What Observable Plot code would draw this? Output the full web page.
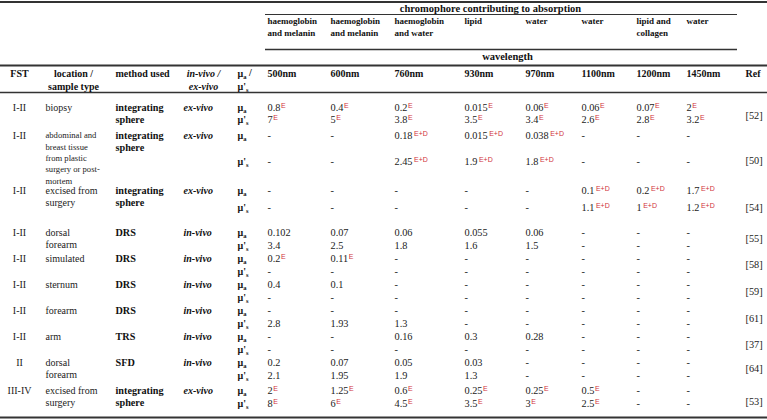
<!DOCTYPE html>
<html><head><meta charset="utf-8">
<script src="https://cdn.jsdelivr.net/npm/d3@7"></script>
<script src="https://cdn.jsdelivr.net/npm/@observablehq/plot@0.6"></script>
<style>body{margin:0;background:#fff}</style>
</head><body><div id="chart"></div>
<script>
// ---------- data ----------
const chromophores = ["haemoglobin\nand melanin","haemoglobin\nand melanin","haemoglobin\nand water","lipid","water","water","lipid and\ncollagen","water"];
const wavelengths = ["500nm","600nm","760nm","930nm","970nm","1100nm","1200nm","1450nm"];
const fst = ["I-II","I-II","I-II","I-II","I-II","I-II","I-II","I-II","II","III-IV"];
const locations = ["biopsy","abdominal and\nbreast tissue\nfrom plastic\nsurgery or post-\nmortem","excised from\nsurgery","dorsal\nforearm","simulated","sternum","forearm","arm","dorsal\nforearm","excised from\nsurgery"];
const methods = ["integrating\nsphere","integrating\nsphere","integrating\nsphere","DRS","DRS","DRS","DRS","TRS","SFD","integrating\nsphere"];
const vivo = ["ex-vivo","ex-vivo","ex-vivo","in-vivo","in-vivo","in-vivo","in-vivo","in-vivo","in-vivo","ex-vivo"];
const refs = ["[52]","[50]","[54]","[55]","[58]","[59]","[61]","[37]","[64]","[53]"];
const muA = [
  ["0.8E","0.4E","0.2E","0.015E","0.06E","0.06E","0.07E","2E"],
  ["-","-","0.18E+D","0.015E+D","0.038E+D","-","-","-"],
  ["-","-","-","-","-","0.1E+D","0.2E+D","1.7E+D"],
  ["0.102","0.07","0.06","0.055","0.06","-","-","-"],
  ["0.2E","0.11E","-","-","-","-","-","-"],
  ["0.4","0.1","-","-","-","-","-","-"],
  ["-","-","-","-","-","-","-","-"],
  ["-","-","0.16","0.3","0.28","-","-","-"],
  ["0.2","0.07","0.05","0.03","-","-","-","-"],
  ["2E","1.25E","0.6E","0.25E","0.25E","0.5E","-","-"]
];
const muS = [
  ["7E","5E","3.8E","3.5E","3.4E","2.6E","2.8E","3.2E"],
  ["-","-","2.45E+D","1.9E+D","1.8E+D","-","-","-"],
  ["-","-","-","-","-","1.1E+D","1E+D","1.2E+D"],
  ["3.4","2.5","1.8","1.6","1.5","-","-","-"],
  ["-","-","-","-","-","-","-","-"],
  ["-","-","-","-","-","-","-","-"],
  ["2.8","1.93","1.3","-","-","-","-","-"],
  ["-","-","-","-","-","-","-","-"],
  ["2.1","1.95","1.9","1.3","-","-","-","-"],
  ["8E","6E","4.5E","3.5E","3E","2.5E","-","-"]
];

// ---------- layout (pixel positions of the table grid) ----------
const colX = [267, 330, 394, 464, 525, 581, 636, 686];
const leftX = {fst: 19, loc: 45, method: 115, vivo: 183, vivoHead: 203, mu: 237, ref: 745};
const rowY = [
  {a:107, s:119, ref:115, step:12.5},
  {a:135, s:161, ref:160, step:11.4},
  {a:190, s:207, ref:207, step:12.7},
  {a:232, s:245, ref:238, step:12.7},
  {a:258, s:271, ref:264, step:12.7},
  {a:284, s:297, ref:291, step:12.7},
  {a:310, s:323, ref:318, step:12.7},
  {a:336, s:349, ref:344, step:12.7},
  {a:362, s:375, ref:368, step:12.7},
  {a:390, s:403, ref:401, step:12.7}
];
const rules = [
  {y:1.5, x1:0, x2:767, w:2},
  {y:14, x1:265, x2:737, w:1},
  {y:49, x1:265, x2:737, w:1.5},
  {y:65, x1:0, x2:767, w:2},
  {y:92, x1:0, x2:767, w:1.3},
  {y:417, x1:0, x2:767, w:2}
];
const RED = "#d0343a";
const SERIF = "'Liberation Serif', 'Times New Roman', serif";

// ---------- build tables for marks ----------
const cells = [];
[["a", muA], ["s", muS]].forEach(([kind, tbl]) => tbl.forEach((row, r) => row.forEach((v, c) => {
  const m = v.match(/^(.*?)(E(\+D)?)?$/);
  cells.push({x: colX[c], y: rowY[r][kind], text: m[1], sup: m[2] || ""});
})));
const muLabels = [];
rowY.forEach(r => { muLabels.push({x: leftX.mu, y: r.a, text: "μ", sub: "a"}); muLabels.push({x: leftX.mu, y: r.s, text: "μ'", sub: "s"}); });
const chromLines = [];
chromophores.forEach((t, c) => t.split("\n").forEach((line, k) => chromLines.push({x: colX[c], y: 21 + k * 12, text: line})));
const wlHead = wavelengths.map((t, c) => ({x: colX[c], y: 73, text: t}));

const fstCells = fst.map((t, i) => ({x: leftX.fst, y: rowY[i].a, text: t}));
const locCells = locations.flatMap((t, i) => t.split("\n").map((line, k) => ({x: leftX.loc, y: rowY[i].a + k * rowY[i].step, text: line, small: i === 1})));
const methodCells = methods.flatMap((t, i) => t.split("\n").map((line, k) => ({x: leftX.method, y: rowY[i].a + k * 12.7, text: line})));
const vivoCells = vivo.map((t, i) => ({x: leftX.vivo, y: rowY[i].a, text: t}));
const refCells = refs.map((t, i) => ({x: leftX.ref, y: rowY[i].ref, text: t}));

const headCenter = [
  {x: leftX.fst, y: 73, text: "FST"},
  {x: 73, y: 73, text: "location /"},
  {x: 73, y: 86, text: "sample type"}
];
const headStart = [
  {x: leftX.method, y: 73, text: "method used"},
  {x: leftX.ref, y: 73, text: "Ref"}
];
const headVivo = [
  {x: leftX.vivoHead, y: 73, text: "in-vivo /"},
  {x: leftX.vivoHead, y: 86, text: "ex-vivo"}
];
const headMu = [
  {x: leftX.mu, y: 73, text: "μ", sub: "a", after: " /"},
  {x: leftX.mu, y: 86, text: "μ'", sub: "s", after: ""}
];

const common = {x: "x", y: "y", text: "text", lineAnchor: "middle", fontFamily: SERIF};
const chart = Plot.plot({
  width: 767, height: 420, margin: 0,
  x: {domain: [0, 767], range: [0, 767], axis: null},
  y: {domain: [0, 420], range: [0, 420], axis: null},
  style: {fontFamily: SERIF, background: "#fff", color: "#111"},
  marks: [
    Plot.ruleY(rules, {y: "y", x1: "x1", x2: "x2", strokeWidth: "w", stroke: "#333"}),
    Plot.text([{x: 490, y: 8, text: "chromophore contributing to absorption"}], {...common, fontWeight: "bold", fontSize: 10.5, fill: "#111"}),
    Plot.text([{x: 507, y: 56, text: "wavelength"}], {...common, fontWeight: "bold", fontSize: 10.5, fill: "#111"}),
    Plot.text(chromLines, {...common, textAnchor: "start", fontWeight: "bold", fontSize: 9, fill: "#111"}),
    Plot.text(wlHead, {...common, textAnchor: "start", fontWeight: "bold", fontSize: 10, fill: "#111"}),
    Plot.text(headCenter, {...common, textAnchor: "middle", fontWeight: "bold", fontSize: 10, fill: "#111"}),
    Plot.text(headStart, {...common, textAnchor: "start", fontWeight: "bold", fontSize: 10, fill: "#111"}),
    Plot.text(headVivo, {...common, textAnchor: "middle", fontWeight: "bold", fontStyle: "italic", fontSize: 10, fill: "#111"}),
    Plot.text(headMu, {...common, textAnchor: "start", fontWeight: "bold", fontSize: 10, fill: "#111", ariaDescription: "headmu"}),
    Plot.text(fstCells, {...common, textAnchor: "middle", fontSize: 10, fill: "#222"}),
    Plot.text(locCells.filter(d => !d.small), {...common, textAnchor: "start", fontSize: 10, fill: "#222"}),
    Plot.text(locCells.filter(d => d.small), {...common, textAnchor: "start", fontSize: 8.6, fill: "#222"}),
    Plot.text(methodCells, {...common, textAnchor: "start", fontWeight: "bold", fontSize: 10.2, fill: "#111"}),
    Plot.text(vivoCells, {...common, textAnchor: "start", fontWeight: "bold", fontStyle: "italic", fontSize: 10, fill: "#111"}),
    Plot.text(muLabels, {...common, textAnchor: "start", fontWeight: "bold", fontSize: 10, fill: "#111", ariaDescription: "mulabels"}),
    Plot.text(cells, {...common, textAnchor: "start", fontSize: 10.3, fill: "#222", ariaDescription: "values"}),
    Plot.text(refCells, {...common, textAnchor: "start", fontSize: 10.3, fill: "#222"})
  ]
});

// superscripts / subscripts as real text tspans
function textsOf(desc, data) {
  let sel = d3.select(chart).selectAll(`g[aria-description="${desc}"] text`);
  if (sel.empty()) {
    const all = Array.from(chart.querySelectorAll("text"));
    const els = [];
    let j = 0;
    for (const el of all) {
      if (j < data.length && el.textContent === data[j].text) { els.push(el); j++; }
    }
    return els.map((el, i) => [el, i]);
  }
  return sel.nodes().map((el, k) => {
    const dt = d3.select(el).datum();
    return [el, typeof dt === "number" ? dt : k];
  });
}
for (const [el, i] of textsOf("values", cells)) {
  const d = cells[i];
  if (d && d.sup) {
    d3.select(el).append("tspan").attr("dx", d.sup.length > 1 ? 1.5 : 0.5).attr("dy", "-0.45em")
      .attr("fill", RED).attr("font-family", "'Liberation Sans', Arial, sans-serif").attr("font-weight", "normal")
      .attr("font-size", 7).text(d.sup);
  }
}
function addSub(desc, data) {
  for (const [el, i] of textsOf(desc, data)) {
    const d = data[i];
    if (!d) continue;
    d3.select(el).append("tspan").attr("dy", "0.3em").attr("font-size", 6.5).text(d.sub);
    if (d.after) d3.select(el).append("tspan").attr("dy", "-0.3em").text(d.after);
  }
}
addSub("mulabels", muLabels);
addSub("headmu", headMu);

document.getElementById("chart").appendChild(chart);
</script>
</body></html>
